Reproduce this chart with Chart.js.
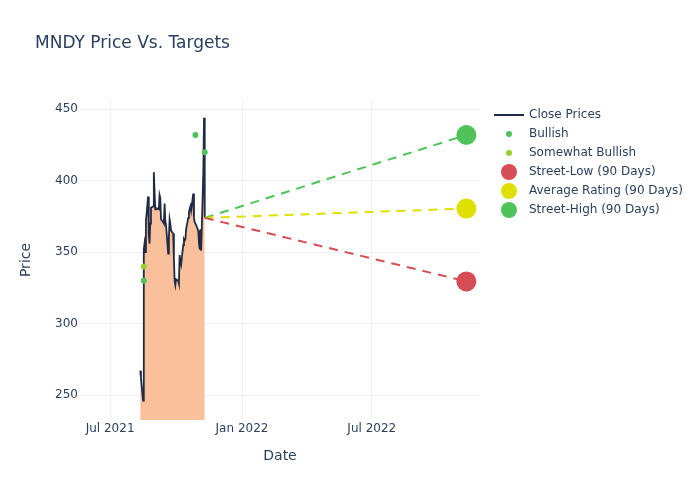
<!DOCTYPE html>
<html>
<head>
<meta charset="utf-8">
<script src="https://cdn.jsdelivr.net/npm/chart.js@4"></script>
<style>
  body { margin: 0; background: #fff; }
  #wrap { width: 700px; height: 500px; }
</style>
</head>
<body>
<div id="wrap"><canvas id="chart" width="700" height="500"></canvas></div>
<script>
// close prices
const dates = [
  '2021-08-12','2021-08-13','2021-08-16','2021-08-17','2021-08-18','2021-08-19','2021-08-20',
  '2021-08-23','2021-08-24','2021-08-25','2021-08-26','2021-08-27','2021-08-30','2021-08-31',
  '2021-09-01','2021-09-02','2021-09-03','2021-09-07','2021-09-08','2021-09-09','2021-09-10',
  '2021-09-13','2021-09-14','2021-09-15','2021-09-16','2021-09-17','2021-09-20','2021-09-21',
  '2021-09-22','2021-09-23','2021-09-24','2021-09-27','2021-09-28','2021-09-29','2021-09-30',
  '2021-10-01','2021-10-04','2021-10-05','2021-10-06','2021-10-07','2021-10-08','2021-10-11',
  '2021-10-12','2021-10-13','2021-10-14','2021-10-15','2021-10-18','2021-10-19','2021-10-20',
  '2021-10-21','2021-10-22','2021-10-25','2021-10-26','2021-10-27','2021-10-28','2021-10-29',
  '2021-11-01','2021-11-02','2021-11-03','2021-11-04','2021-11-05','2021-11-08','2021-11-09',
  '2021-11-10'
];
const closePrices = [
  267, 262, 246, 352, 356, 350, 372,
  389, 362, 356, 370, 381, 382, 406,
  392, 380, 381, 380, 390, 388, 373,
  371, 370, 384, 372, 369, 349, 360,
  373, 370, 365, 363, 345, 330, 327,
  331, 330, 328, 348, 343, 341, 355,
  359, 358, 359, 366, 374, 378, 380,
  382, 379, 391, 374, 371, 370, 369,
  365, 356, 352, 366, 351, 405, 444,
  374
];

// analyst ratings
const bullishDates = ['2021-08-17', '2021-10-28', '2021-11-10'];
const bullishValues = [330, 432, 420];
const somewhatBullishDates = ['2021-08-17'];
const somewhatBullishValues = [340];

// 90 day targets
const targetStartDate = '2021-11-10';
const targetDate = '2022-11-10';
const streetLow = 329.5;
const averageRating = 380.5;
const streetHigh = 432;

const tickDates = ['2021-07-01', '2022-01-01', '2022-07-01'];
const tickLabels = ['Jul 2021', 'Jan 2022', 'Jul 2022'];

const ink = '#2a3f5f';
const gridCol = '#ebf0f8';
const fontFam = '"DejaVu Sans", sans-serif';

const t = d => Date.parse(d);
const pts = (xs, ys) => xs.map((d, i) => ({ x: t(d), y: ys[i] }));
const lastClose = closePrices[closePrices.length - 1];

const legendItems = [
  { label: 'Close Prices', kind: 'line', color: '#1f2a44' },
  { label: 'Bullish', kind: 'dot', color: '#4fc35a' },
  { label: 'Somewhat Bullish', kind: 'dot', color: '#94d02c' },
  { label: 'Street-Low (90 Days)', kind: 'big', color: '#d64d55' },
  { label: 'Average Rating (90 Days)', kind: 'big', color: '#e0e000' },
  { label: 'Street-High (90 Days)', kind: 'big', color: '#4fc35a' },
];

// title + legend drawn by hand, plotly style
const decor = {
  id: 'decor',
  afterDraw(chart) {
    const ctx = chart.ctx;
    ctx.save();
    ctx.fillStyle = ink;
    ctx.textBaseline = 'middle';
    ctx.textAlign = 'left';
    ctx.font = '17px ' + fontFam;
    ctx.fillText('MNDY Price Vs. Targets', 35, 44);

    ctx.font = '12px ' + fontFam;
    legendItems.forEach((it, i) => {
      const y = 115 + i * 19;
      if (it.kind === 'line') {
        ctx.strokeStyle = it.color;
        ctx.lineWidth = 2;
        ctx.beginPath();
        ctx.moveTo(494, y);
        ctx.lineTo(524, y);
        ctx.stroke();
      } else {
        ctx.fillStyle = it.color;
        ctx.beginPath();
        ctx.arc(509, y, it.kind === 'dot' ? 3 : 8, 0, Math.PI * 2);
        ctx.fill();
      }
      ctx.fillStyle = ink;
      ctx.fillText(it.label, 529, y);
    });
    ctx.restore();
  }
};

const targetLine = (val, color) => ({
  type: 'line',
  data: pts([targetStartDate, targetDate], [lastClose, val]),
  borderColor: color,
  borderWidth: 2,
  borderDash: [9, 7],
  pointRadius: [0, 10],
  pointBackgroundColor: color,
  pointBorderWidth: 0,
  fill: false,
  order: 3,
});

new Chart(document.getElementById('chart').getContext('2d'), {
  type: 'line',
  data: {
    datasets: [
      {
        data: pts(dates, closePrices),
        borderColor: '#1f2a44',
        borderWidth: 1.8,
        backgroundColor: '#fac09c',
        fill: 'start',
        pointRadius: 0,
        tension: 0,
        order: 5,
      },
      targetLine(streetLow, '#d64d55'),
      targetLine(averageRating, '#e0e000'),
      targetLine(streetHigh, '#4fc35a'),
      {
        type: 'scatter',
        data: pts(bullishDates, bullishValues),
        backgroundColor: '#4fc35a',
        borderWidth: 0,
        pointRadius: 3,
        order: 1,
      },
      {
        type: 'scatter',
        data: pts(somewhatBullishDates, somewhatBullishValues),
        backgroundColor: '#94d02c',
        borderWidth: 0,
        pointRadius: 3,
        order: 1,
      },
    ],
  },
  options: {
    responsive: false,
    animation: false,
    layout: { padding: { left: 0, top: 100, right: 220, bottom: 0 } },
    plugins: {
      legend: { display: false },
      tooltip: { enabled: false },
      title: { display: false },
    },
    scales: {
      x: {
        type: 'linear',
        min: t('2021-05-20'),
        max: t('2022-11-29'),
        afterFit: s => { s.height = 80; },
        afterBuildTicks: s => { s.ticks = tickDates.map(d => ({ value: t(d) })); },
        grid: { color: gridCol, drawTicks: false },
        border: { display: false },
        ticks: {
          padding: 2,
          color: ink,
          font: { family: fontFam, size: 12 },
          maxRotation: 0,
          callback: v => tickLabels[tickDates.map(t).indexOf(v)],
        },
        title: {
          display: true,
          text: 'Date',
          color: ink,
          font: { family: fontFam, size: 14 },
          padding: { top: 0, bottom: 35 },
        },
      },
      y: {
        min: 232.5,
        max: 456.5,
        afterFit: s => { s.width = 80; },
        grid: { color: gridCol, drawTicks: false },
        border: { display: false },
        ticks: {
          stepSize: 50,
          includeBounds: false,
          padding: 2,
          color: ink,
          font: { family: fontFam, size: 12 },
        },
        title: {
          display: true,
          text: 'Price',
          color: ink,
          font: { family: fontFam, size: 14 },
          padding: { top: 18, bottom: 0 },
        },
      },
    },
  },
  plugins: [decor],
});
</script>
</body>
</html>
